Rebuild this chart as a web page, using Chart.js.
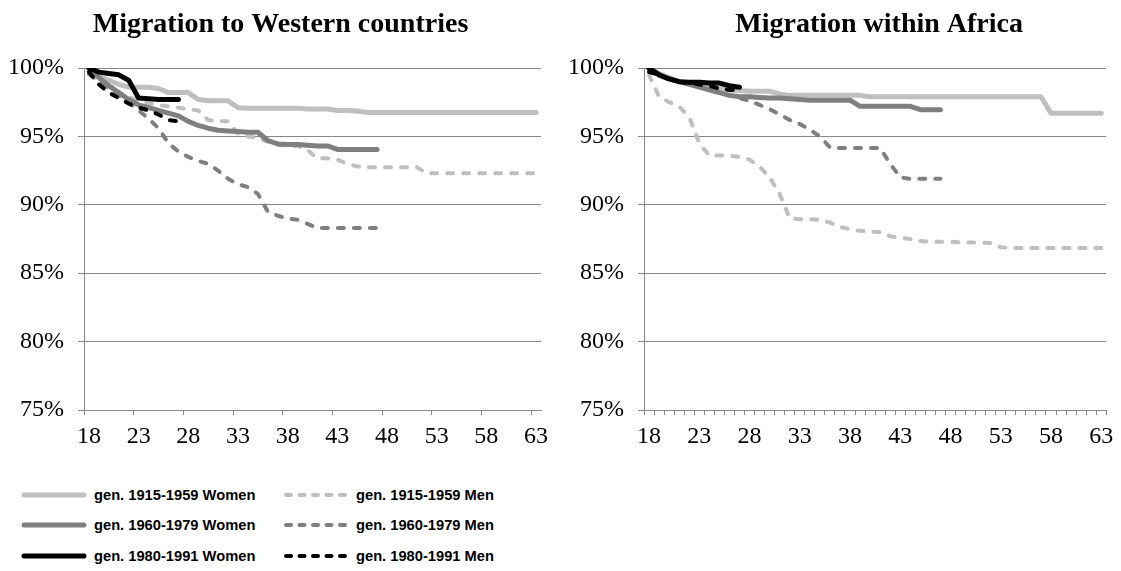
<!DOCTYPE html>
<html>
<head>
<meta charset="utf-8">
<script src="https://cdn.jsdelivr.net/npm/chart.js@4.4.1/dist/chart.umd.min.js"></script>
<style>
  body { margin: 0; background: #fff; }
  #page { position: relative; width: 1121px; height: 571px; overflow: hidden; background: #fff; }
  #c1 { position: absolute; left: 0; top: 0; }
  #c2 { position: absolute; left: 560px; top: 0; }
  .leg { position: absolute; height: 20px; display: flex; align-items: center;
         font: bold 14.7px "Liberation Sans", Arial, sans-serif; color: #000; white-space: nowrap; }
  .leg svg { margin-right: 7px; display: block; }
</style>
</head>
<body>
<div id="page">
  <canvas id="c1" width="560" height="460"></canvas>
  <canvas id="c2" width="561" height="460"></canvas>
  <div id="legend"></div>
</div>
<script>
// Age at risk (x categories)
const ages = [18,19,20,21,22,23,24,25,26,27,28,29,30,31,32,33,34,35,36,37,38,39,40,
              41,42,43,44,45,46,47,48,49,50,51,52,53,54,55,56,57,58,59,60,61,62,63];
const yTicks = [75, 80, 85, 90, 95, 100];

const seriesNames = ['gen. 1915-1959 Women', 'gen. 1915-1959 Men',
                     'gen. 1960-1979 Women', 'gen. 1960-1979 Men',
                     'gen. 1980-1991 Women', 'gen. 1980-1991 Men'];

// Survival (share not yet migrated), migration to Western countries
const westWomen1915 = [99.8, 99.4, 99.1, 98.8, 98.6, 98.6, 98.6, 98.5, 98.2, 98.2, 98.2, 97.7, 97.6, 97.6, 97.6, 97.1,
  97.05, 97.05, 97.05, 97.05, 97.05, 97.05, 97.0, 97.0, 97.0, 96.9, 96.9, 96.85,
  96.75, 96.75, 96.75, 96.75, 96.75, 96.75, 96.75, 96.75, 96.75, 96.75, 96.75, 96.75, 96.75, 96.75, 96.75, 96.75, 96.75, 96.75];
const westMen1915 = [99.5, 99.0, 98.6, 98.2, 97.9, 97.6, 97.4, 97.3, 97.2, 97.1, 97.0, 96.9, 96.2, 96.1, 96.1, 95.2,
  95.0, 94.9, 94.6, 94.4, 94.3, 94.3, 94.0, 93.4, 93.4, 93.3, 93.0, 92.8,
  92.75, 92.75, 92.75, 92.75, 92.75, 92.75,
  92.3, 92.3, 92.3, 92.3, 92.3, 92.3, 92.3, 92.3, 92.3, 92.3, 92.3, 92.3];
const westWomen1960 = [100, 99.3, 98.7, 98.2, 97.7, 97.3, 97.1, 96.9, 96.7, 96.5, 96.1, 95.8, 95.6, 95.45, 95.4,
  95.35, 95.3, 95.3, 94.7, 94.45, 94.4, 94.4, 94.35, 94.3, 94.3, 94.05, 94.05, 94.05, 94.05, 94.05];
const westMen1960 = [99.6, 99.0, 98.5, 98.0, 97.5, 96.9, 96.3, 95.6, 94.5, 93.9, 93.5, 93.2, 93.0, 92.5, 91.9,
  91.5, 91.3, 90.8, 89.5, 89.2, 89.0, 88.9, 88.6, 88.3, 88.3, 88.3, 88.3, 88.3, 88.3, 88.3];
const westWomen1980 = [100, 99.7, 99.6, 99.5, 99.1, 97.8, 97.75, 97.7, 97.7, 97.7];
const westMen1980 = [99.7, 98.8, 98.2, 97.8, 97.4, 97.1, 96.9, 96.6, 96.2, 96.1];

// Survival (share not yet migrated), migration within Africa
const africaWomen1915 = [100, 99.6, 99.3, 99.0, 98.9, 98.8, 98.6, 98.5, 98.4, 98.35, 98.3, 98.3, 98.3, 98.1,
  98.0, 98.0, 98.0, 98.0, 98.0, 98.0, 98.0, 98.0,
  97.9, 97.9, 97.9, 97.9, 97.9, 97.9, 97.9, 97.9, 97.9, 97.9, 97.9, 97.9, 97.9, 97.9, 97.9, 97.9, 97.9, 97.9,
  96.7, 96.7, 96.7, 96.7, 96.7, 96.7];
const africaMen1915 = [99.5, 97.9, 97.5, 97.2, 96.4, 94.5, 93.6, 93.6, 93.6, 93.5,
  93.3, 92.8, 92.0, 90.8, 89.0, 88.95, 88.95, 88.9, 88.7, 88.4,
  88.2, 88.1, 88.05, 88.0, 87.7, 87.6, 87.5, 87.35, 87.3, 87.3,
  87.3, 87.25, 87.25, 87.25, 87.2, 86.9,
  86.85, 86.85, 86.85, 86.85, 86.85, 86.85, 86.85, 86.85, 86.85, 86.85];
const africaWomen1960 = [99.9, 99.5, 99.2, 99.0, 98.8, 98.6, 98.4, 98.2, 98.0, 97.9, 97.9, 97.85, 97.8, 97.8, 97.75,
  97.7, 97.65, 97.65, 97.65, 97.65, 97.65, 97.2, 97.2, 97.2, 97.2, 97.2, 97.2, 96.95, 96.95, 96.95];
const africaMen1960 = [99.8, 99.5, 99.2, 99.0, 98.8, 98.6, 98.4, 98.2, 98.0, 97.8, 97.6, 97.3, 97.0, 96.6, 96.2,
  95.9, 95.5, 95.0, 94.2, 94.15, 94.15, 94.15, 94.15, 94.15, 93.0, 92.0, 91.9, 91.9, 91.9, 91.9];
const africaWomen1980 = [100, 99.5, 99.2, 99.0, 98.95, 98.95, 98.9, 98.9, 98.7, 98.6];
const africaMen1980 = [99.7, 99.5, 99.2, 99.0, 98.9, 98.8, 98.7, 98.5, 98.4, 98.4];

// Line styling per series (same order as seriesNames)
const lineStyle = [
  { color: '#bfbfbf', dashed: false, order: 4 },
  { color: '#bfbfbf', dashed: true,  order: 5 },
  { color: '#7f7f7f', dashed: false, order: 2 },
  { color: '#7f7f7f', dashed: true,  order: 3 },
  { color: '#000000', dashed: false, order: 0 },
  { color: '#000000', dashed: true,  order: 1 }
];
const SOLID_W = 5, DASH_W = 4, DASH = [6, 10];
const gridColor = '#878787';
const serif = "'Liberation Serif', 'Times New Roman', serif";

// Moves the title block sideways after layout (the title is centred on its own box)
const titleShift = {
  id: 'titleShift',
  afterLayout(chart, args, opts) {
    const t = chart.titleBlock;
    if (t && opts && opts.dx) { t.left += opts.dx; t.right += opts.dx; }
  }
};

function makeDatasets(seriesList) {
  return seriesList.map((values, i) => ({
    label: seriesNames[i],
    data: values,
    borderColor: lineStyle[i].color,
    backgroundColor: lineStyle[i].color,
    borderWidth: lineStyle[i].dashed ? DASH_W : SOLID_W,
    borderDash: lineStyle[i].dashed ? DASH : [],
    borderCapStyle: 'round',
    borderJoinStyle: 'round',
    pointRadius: 0,
    pointHoverRadius: 0,
    tension: 0,
    fill: false,
    order: lineStyle[i].order
  }));
}

function makeOptions(title, titleFullSize, titleDx, padRight, tickEveryCategory) {
  return {
    responsive: false,
    animation: false,
    events: [],
    layout: { padding: { left: 0, right: padRight, top: 0, bottom: 0 } },
    plugins: {
      legend: { display: false },
      tooltip: { enabled: false },
      titleShift: { dx: titleDx },
      title: {
        display: true,
        text: title,
        fullSize: titleFullSize,
        color: '#000',
        font: { family: serif, size: 28, weight: 'bold' },
        padding: { top: 8, bottom: 26.4 }
      }
    },
    scales: {
      x: {
        type: 'category',
        offset: true,
        grid: {
          offset: true,
          drawOnChartArea: false,
          drawTicks: true,
          tickLength: 5,
          lineWidth: 1,
          color: ctx => (tickEveryCategory || ctx.index % 5 === 0) ? gridColor : 'rgba(0,0,0,0)'
        },
        border: { display: true, color: gridColor, width: 1 },
        ticks: {
          autoSkip: false,
          maxRotation: 0,
          minRotation: 0,
          padding: 7.6,
          color: '#000',
          font: { family: serif, size: 24 },
          callback: (v, i) => (i % 5 === 0 ? String(ages[i]) : '')
        },
        afterFit: s => { s.height = 50; }
      },
      y: {
        min: 75,
        max: 100,
        afterBuildTicks: s => { s.ticks = yTicks.map(v => ({ value: v })); },
        grid: { color: gridColor, lineWidth: 1, tickLength: 6 },
        border: { display: true, color: gridColor, width: 1 },
        ticks: {
          padding: 14,
          color: '#000',
          font: { family: serif, size: 24 },
          callback: v => v + '%'
        },
        afterFit: s => { s.width = 84; }
      }
    }
  };
}

new Chart(document.getElementById('c1'), {
  type: 'line',
  data: {
    labels: ages,
    datasets: makeDatasets([westWomen1915, westMen1915, westWomen1960, westMen1960, westWomen1980, westMen1980])
  },
  options: makeOptions('Migration to Western countries', true, 10, 19, false),
  plugins: [titleShift]
});

new Chart(document.getElementById('c2'), {
  type: 'line',
  data: {
    labels: ages,
    datasets: makeDatasets([africaWomen1915, africaMen1915, africaWomen1960, africaMen1960, africaWomen1980, africaMen1980])
  },
  options: makeOptions('Migration within Africa', false, 4, 12, true),
  plugins: [titleShift]
});

// Shared legend: two columns (women | men), one row per generation
const legend = document.getElementById('legend');
const colLeft = [21, 283];
const rowCenter = [495, 525, 556];
seriesNames.forEach((name, i) => {
  const st = lineStyle[i];
  const item = document.createElement('div');
  item.className = 'leg';
  item.style.left = colLeft[i % 2] + 'px';
  item.style.top = (rowCenter[Math.floor(i / 2)] - 10) + 'px';
  const w = st.dashed ? DASH_W : SOLID_W;
  const dash = st.dashed ? 'stroke-dasharray="5 8.5"' : '';
  item.innerHTML =
    '<svg width="66" height="10"><line x1="3" y1="5" x2="63" y2="5" stroke="' + st.color +
    '" stroke-width="' + w + '" stroke-linecap="round" ' + dash + '/></svg><span></span>';
  item.querySelector('span').textContent = name;
  legend.appendChild(item);
});
</script>
</body>
</html>
